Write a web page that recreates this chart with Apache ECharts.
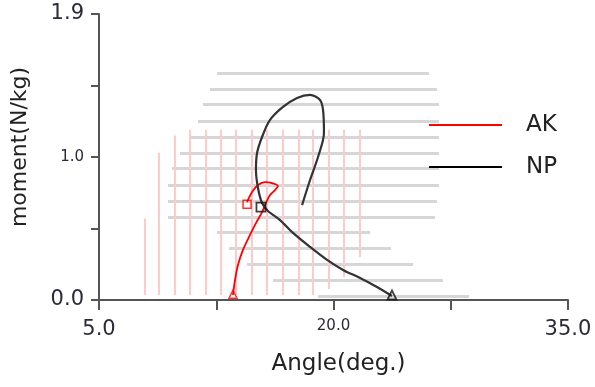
<!DOCTYPE html>
<html>
<head>
<meta charset="utf-8">
<script src="https://cdn.jsdelivr.net/npm/echarts@6/dist/echarts.min.js"></script>
<style>
  html, body { margin: 0; padding: 0; background: #fff; }
  #chart { width: 595px; height: 387px; }
</style>
</head>
<body>
<div id="chart"></div>
<script>
// tick labels (top one is printed as 1.9 in the original)
const xTickVals = [5, 12.5, 20, 27.5, 35]
const xTickText = ['5.0', '', '20.0', '', '35.0']
const yTickVals = [0, 0.5, 1, 1.5, 2]
const yTickText = ['0.0', '', '1.0', '', '1.9']

// AK trajectory (angle, moment)
const akAngle = [13.57, 13.70, 13.89, 14.21, 14.66, 15.04, 15.43, 15.68, 15.94, 16.26, 16.45, 16.07, 15.62, 15.17, 14.79, 14.47]
const akMoment = [0.035, 0.140, 0.245, 0.350, 0.455, 0.538, 0.615, 0.678, 0.734, 0.769, 0.797, 0.818, 0.825, 0.804, 0.755, 0.685]

// NP trajectory
const npAngle = [23.74, 22.78, 21.70, 20.61, 19.59, 18.50, 17.41, 16.58, 15.81, 15.43, 15.17, 15.04, 15.11, 15.43, 15.94, 16.77, 17.67, 18.50, 19.14, 19.33, 19.39, 19.01, 18.50, 17.99]
const npMoment = [0.028, 0.091, 0.154, 0.210, 0.280, 0.371, 0.469, 0.559, 0.622, 0.678, 0.783, 0.909, 1.028, 1.140, 1.259, 1.350, 1.413, 1.434, 1.399, 1.329, 1.168, 1.000, 0.839, 0.664]

// event markers
const akMarkAngle = [13.57, 14.47]
const akMarkMoment = [0.04, 0.67]
const akMarkShape = ['triangle', 'rect']
const npMarkAngle = [15.36, 23.74]
const npMarkMoment = [0.65, 0.035]
const npMarkShape = ['rect', 'triangle']

// background hatching: gray horizontal strokes
const hLineY = [1.587, 1.476, 1.371, 1.252, 1.140, 1.028, 0.923, 0.804, 0.692, 0.580, 0.476, 0.364, 0.252, 0.140, 0.028]
const hLineFrom = [12.55, 12.10, 11.65, 11.33, 10.89, 10.18, 9.67, 9.41, 9.41, 9.41, 12.55, 13.32, 14.47, 16.13, 19.01]
const hLineTo = [26.11, 26.62, 26.75, 26.75, 26.75, 26.75, 26.75, 26.75, 26.62, 26.49, 22.34, 23.68, 25.09, 27.00, 28.67]

// pink vertical strokes
const vLineX = [7.9, 8.85, 9.85, 10.8, 11.8, 12.8, 13.75, 14.8, 15.75, 16.75, 17.75, 18.7, 19.7, 20.65, 21.7]
const vLineTop = [0.57, 1.03, 1.15, 1.19, 1.19, 1.19, 1.19, 1.19, 1.19, 1.19, 1.19, 1.19, 1.19, 1.19, 1.19]
const vLineBottom = [0.035, 0.035, 0.035, 0.035, 0.035, 0.035, 0.035, 0.035, 0.035, 0.035, 0.035, 0.035, 0.077, 0.161, 0.30]

const FONT = 'DejaVu Sans'

const zip = (a, b) => a.map((v, i) => [v, b[i]])

const tickLabel = (vals, texts) => (value) => {
  const i = vals.findIndex((v) => Math.abs(v - value) < 1e-6)
  if (i < 0 || !texts[i]) return ''
  // end labels are printed larger
  const big = i === 0 || i === vals.length - 1
  return big ? '{b|' + texts[i] + '}' : '{s|' + texts[i] + '}'
}

const labelRich = {
  b: { fontSize: 21, fontFamily: FONT, color: '#2a2a3a' },
  s: { fontSize: 15, fontFamily: FONT, color: '#2a2a3a' }
}

const axisLineStyle = { color: '#555', width: 2 }

const chart = echarts.init(document.getElementById('chart'))

const option = {
  animation: false,
  grid: { left: 99, right: 27, top: 14, bottom: 87 },
  legend: {
    orient: 'vertical',
    left: 424,
    top: 106,
    icon: 'rect',
    itemWidth: 73,
    itemHeight: 2,
    itemGap: 14,
    data: ['AK', 'NP'],
    textStyle: { fontSize: 23, fontFamily: FONT, color: '#222', lineHeight: 28, padding: [0, 0, 0, 19] }
  },
  xAxis: {
    type: 'value',
    min: 5,
    max: 35,
    interval: 7.5,
    name: 'Angle(deg.)',
    nameLocation: 'middle',
    nameGap: 53,
    nameTextStyle: { fontSize: 23, fontFamily: FONT, color: '#222', padding: [0, 0, 0, 10] },
    axisLine: { show: true, lineStyle: axisLineStyle },
    axisTick: { show: true, inside: false, length: 10, lineStyle: axisLineStyle },
    splitLine: { show: false },
    axisLabel: {
      margin: 19,
      showMinLabel: true,
      showMaxLabel: true,
      formatter: tickLabel(xTickVals, xTickText),
      rich: labelRich
    }
  },
  yAxis: {
    type: 'value',
    min: 0,
    max: 2,
    interval: 0.5,
    name: 'moment(N/kg)',
    nameLocation: 'middle',
    nameGap: 68,
    nameRotate: 90,
    nameTextStyle: { fontSize: 22, fontFamily: FONT, color: '#222', padding: [0, 0, 0, 20] },
    axisLine: { show: true, lineStyle: axisLineStyle },
    axisTick: { show: true, inside: false, length: 8, lineStyle: axisLineStyle },
    splitLine: { show: false },
    axisLabel: {
      margin: 15,
      showMinLabel: true,
      showMaxLabel: true,
      formatter: tickLabel(yTickVals, yTickText),
      rich: labelRich
    }
  },
  series: [
    {
      name: 'hatch-h',
      type: 'lines',
      coordinateSystem: 'cartesian2d',
      silent: true,
      z: 1,
      lineStyle: { color: '#d6d6d6', width: 3, opacity: 1 },
      data: hLineY.map((y, i) => ({ coords: [[hLineFrom[i], y], [hLineTo[i], y]] }))
    },
    {
      name: 'hatch-v',
      type: 'lines',
      coordinateSystem: 'cartesian2d',
      silent: true,
      z: 2,
      lineStyle: { color: '#ffcaca', width: 2, opacity: 1 },
      data: vLineX.map((x, i) => ({ coords: [[x, vLineBottom[i]], [x, vLineTop[i]]] }))
    },
    {
      name: 'AK',
      type: 'line',
      z: 5,
      smooth: 0.3,
      showSymbol: false,
      color: '#ff0000',
      lineStyle: { color: '#ff0000', width: 1.8 },
      data: zip(akAngle, akMoment)
    },
    {
      name: 'NP',
      type: 'line',
      z: 5,
      smooth: 0.3,
      showSymbol: false,
      color: '#000',
      lineStyle: { color: '#333', width: 2.2 },
      data: zip(npAngle, npMoment)
    },
    {
      name: 'AK events',
      type: 'scatter',
      z: 6,
      symbolSize: 8,
      itemStyle: { color: 'rgba(255,255,255,0)', borderColor: '#ff0000', borderWidth: 1.5 },
      data: akMarkAngle.map((x, i) => ({ value: [x, akMarkMoment[i]], symbol: akMarkShape[i] }))
    },
    {
      name: 'NP events',
      type: 'scatter',
      z: 6,
      symbolSize: 9,
      itemStyle: { color: 'rgba(255,255,255,0)', borderColor: '#111', borderWidth: 1.8 },
      data: npMarkAngle.map((x, i) => ({ value: [x, npMarkMoment[i]], symbol: npMarkShape[i] }))
    }
  ]
}

chart.setOption(option)
</script>
</body>
</html>
